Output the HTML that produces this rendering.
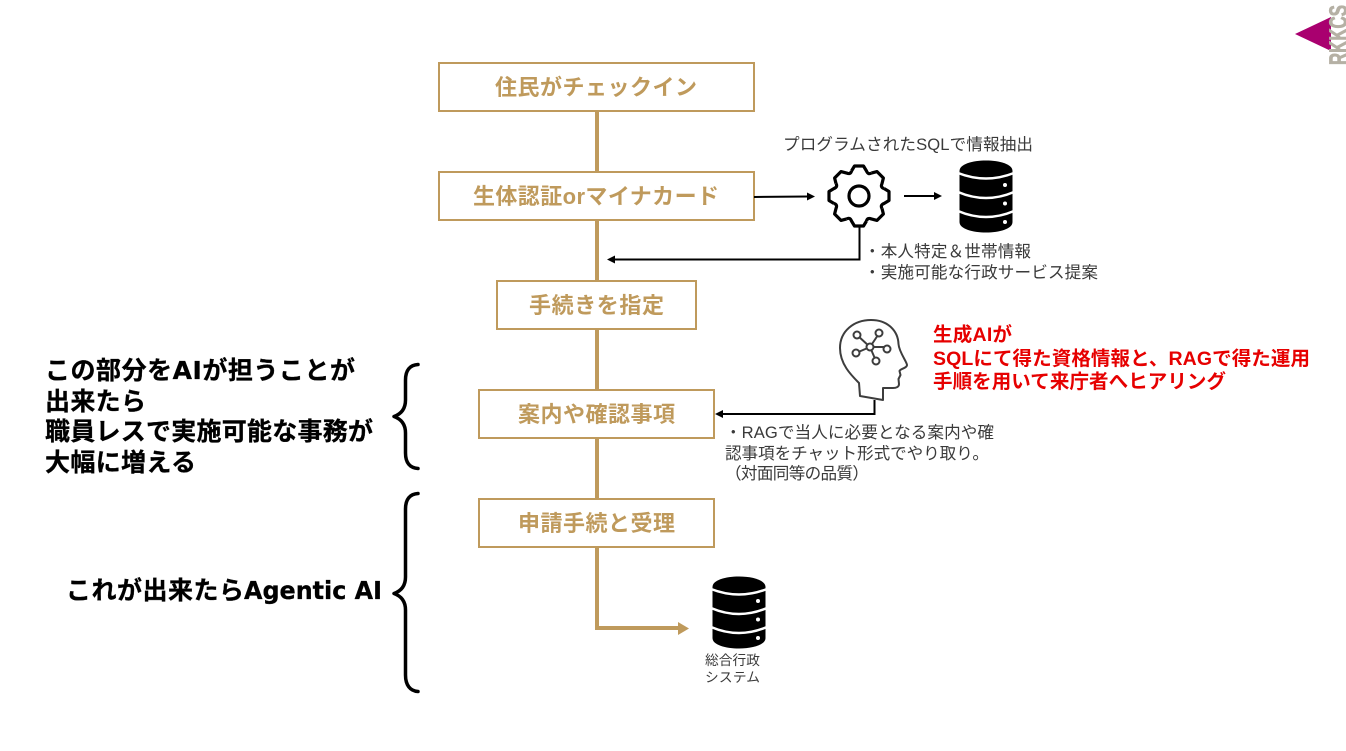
<!DOCTYPE html>
<html lang="ja">
<head>
<meta charset="utf-8">
<title>Diagram</title>
<style>
html,body{margin:0;padding:0;background:#fff;}
svg{display:block;}
text{font-family:"Liberation Sans","Noto Sans CJK JP",sans-serif;}
.g{font-size:22px;font-weight:700;fill:#BF9A5C;}
.b{font-size:25px;font-weight:700;fill:#000;stroke:#000;stroke-width:.3px;}
.l{font-family:"DejaVu Sans","Liberation Sans",sans-serif;font-weight:700;}
.r{font-size:19.5px;font-weight:700;fill:#E60000;}
.n{font-size:16.6px;fill:#3a3a3a;}
.s{font-size:13.7px;fill:#3a3a3a;}
</style>
</head>
<body>
<svg width="1346" height="751" viewBox="0 0 1346 751" xmlns="http://www.w3.org/2000/svg">
<rect width="1346" height="751" fill="#fff"/>

<!-- logo -->
<polygon points="1295,34 1331,17 1331,51" fill="#A9006F"/>
<text transform="translate(1347,65) rotate(-90)" font-size="25" font-weight="700" fill="#B5B0A4" stroke="#B5B0A4" stroke-width=".8" textLength="60" lengthAdjust="spacingAndGlyphs">RKKCS</text>

<!-- gold trunk -->
<path d="M597 111V628H680" fill="none" stroke="#BF9A5C" stroke-width="4"/>
<polygon points="678,622 689,628.500 678,635" fill="#BF9A5C"/>

<!-- boxes -->
<g fill="#fff" stroke="#BF9A5C" stroke-width="2">
<rect x="439" y="63" width="315" height="48"/>
<rect x="439" y="172" width="315" height="48"/>
<rect x="497" y="281" width="199" height="48"/>
<rect x="479" y="390" width="235" height="48"/>
<rect x="479" y="499" width="235" height="48"/>
</g>
<text class="g" x="495" y="95" textLength="202">住民がチェックイン</text>
<text class="g" x="473" y="204" textLength="246">生体認証orマイナカード</text>
<text class="g" x="529" y="313" textLength="135">手続きを指定</text>
<text class="g" x="518" y="422" textLength="157">案内や確認事項</text>
<text class="g" x="518" y="531" textLength="157">申請手続と受理</text>

<!-- black connectors -->
<g fill="none" stroke="#000" stroke-width="2">
<path d="M754 197L808 196.500"/>
<path d="M904 196H934"/>
<path d="M859.500 227V259.500H614"/>
<path d="M874.500 400V414H723"/>
</g>
<polygon points="815,196.500 807,192.500 807,200.500" fill="#000"/>
<polygon points="942,196 934,192 934,200" fill="#000"/>
<polygon points="607,259.500 615,255.500 615,263.500" fill="#000"/>
<polygon points="715,414 723,410 723,418" fill="#000"/>

<!-- gear -->
<g transform="translate(859,196)" fill="none" stroke="#000" stroke-width="3.200" stroke-linejoin="round">
<circle r="10"/>
<path transform="rotate(0)" d="M-7.500 -25L-4.500 -30L4.500 -30L7.500 -25Q9 -21 12.400 -23"/>
<path transform="rotate(45)" d="M-7.500 -25L-4.500 -30L4.500 -30L7.500 -25Q9 -21 12.400 -23"/>
<path transform="rotate(90)" d="M-7.500 -25L-4.500 -30L4.500 -30L7.500 -25Q9 -21 12.400 -23"/>
<path transform="rotate(135)" d="M-7.500 -25L-4.500 -30L4.500 -30L7.500 -25Q9 -21 12.400 -23"/>
<path transform="rotate(180)" d="M-7.500 -25L-4.500 -30L4.500 -30L7.500 -25Q9 -21 12.400 -23"/>
<path transform="rotate(225)" d="M-7.500 -25L-4.500 -30L4.500 -30L7.500 -25Q9 -21 12.400 -23"/>
<path transform="rotate(270)" d="M-7.500 -25L-4.500 -30L4.500 -30L7.500 -25Q9 -21 12.400 -23"/>
<path transform="rotate(315)" d="M-7.500 -25L-4.500 -30L4.500 -30L7.500 -25Q9 -21 12.400 -23"/>
</g>

<!-- database 1 -->
<g>
<path d="M959.500 171C959.500 157 1012.500 157 1012.500 171V222C1012.500 236 959.500 236 959.500 222Z" fill="#000"/>
<g fill="none" stroke="#fff" stroke-width="2.500">
<path d="M958 173Q986 184 1014 173"/>
<path d="M958 192Q986 204 1014 192"/>
<path d="M958 211Q986 223 1014 211"/>
</g>
<g fill="#fff"><circle cx="1005" cy="185" r="2"/><circle cx="1005" cy="203.500" r="2"/><circle cx="1005" cy="222" r="2"/></g>
</g>

<!-- database 2 -->
<g transform="translate(-247,416)">
<path d="M959.500 171C959.500 157 1012.500 157 1012.500 171V222C1012.500 236 959.500 236 959.500 222Z" fill="#000"/>
<g fill="none" stroke="#fff" stroke-width="2.500">
<path d="M958 173Q986 184 1014 173"/>
<path d="M958 192Q986 204 1014 192"/>
<path d="M958 211Q986 223 1014 211"/>
</g>
<g fill="#fff"><circle cx="1005" cy="185" r="2"/><circle cx="1005" cy="203.500" r="2"/><circle cx="1005" cy="222" r="2"/></g>
</g>

<!-- head icon -->
<g fill="none" stroke="#3d3d3d" stroke-width="2" stroke-linejoin="round">
<path d="M860 396L859 383C851 375 840 364 840 348C840 331 854 320 871 320C888 320 898 331 898.500 344C899 352 907 362 907 365C907 368 900 369 899.500 371L900.500 375L898.500 379L899 384C899 387 896 388 893 388H883V400Z"/>
<path d="M870 347L857 335M870 347L879 333.500M870 347H887M870 347L876 361M870 347L856 353"/>
<g fill="#fff">
<circle cx="870" cy="347" r="3.500"/>
<circle cx="857" cy="335" r="3.500"/>
<circle cx="879" cy="333" r="3.500"/>
<circle cx="887" cy="349" r="3.500"/>
<circle cx="876" cy="361" r="3.500"/>
<circle cx="856" cy="353" r="3.500"/>
</g>
</g>

<!-- labels -->
<text class="n" x="783" y="150" textLength="250">プログラムされたSQLで情報抽出</text>
<text class="n" x="864" y="257" textLength="167">・本人特定＆世帯情報</text>
<text class="n" x="864" y="278" textLength="234">・実施可能な行政サービス提案</text>
<text class="n" x="725" y="438" textLength="269">・RAGで当人に必要となる案内や確</text>
<text class="n" x="725" y="459" textLength="264">認事項をチャット形式でやり取り。</text>
<text class="n" x="725" y="479" textLength="144">（対面同等の品質）</text>
<text class="s" x="705" y="665" textLength="55">総合行政</text>
<text class="s" x="705" y="682" textLength="55">システム</text>

<text class="r" x="933" y="341" textLength="79">生成AIが</text>
<text class="r" x="933" y="365" textLength="377">SQLにて得た資格情報と、RAGで得た運用</text>
<text class="r" x="933" y="388" textLength="293">手順を用いて来庁者へヒアリング</text>

<text class="b" x="45" y="379" textLength="310">この部分を<tspan class="l">AI</tspan>が担うことが</text>
<text class="b" x="45" y="410" textLength="101">出来たら</text>
<text class="b" x="45" y="440" textLength="328">職員レスで実施可能な事務が</text>
<text class="b" x="45" y="471" textLength="151">大幅に増える</text>
<text class="b" x="66" y="599" textLength="178">これが出来たら</text>
<text class="b l" x="244" y="599" textLength="138" lengthAdjust="spacingAndGlyphs">Agentic AI</text>

<!-- braces -->
<g fill="none" stroke="#000" stroke-width="3.500" stroke-linecap="round" stroke-linejoin="round">
<path d="M418 364.500C410 365 405.500 370 405.500 380V400C405.500 409 401 414 394 416.500C401 419 405.500 424 405.500 433V453C405.500 463 410 468 418 468.500"/>
<path d="M418 493.500C410 494 405.500 499 405.500 509V577C405.500 586 401 591 394 593.500C401 596 405.500 601 405.500 610V675C405.500 685 410 691 418 691.500"/>
</g>
</svg>
</body>
</html>
